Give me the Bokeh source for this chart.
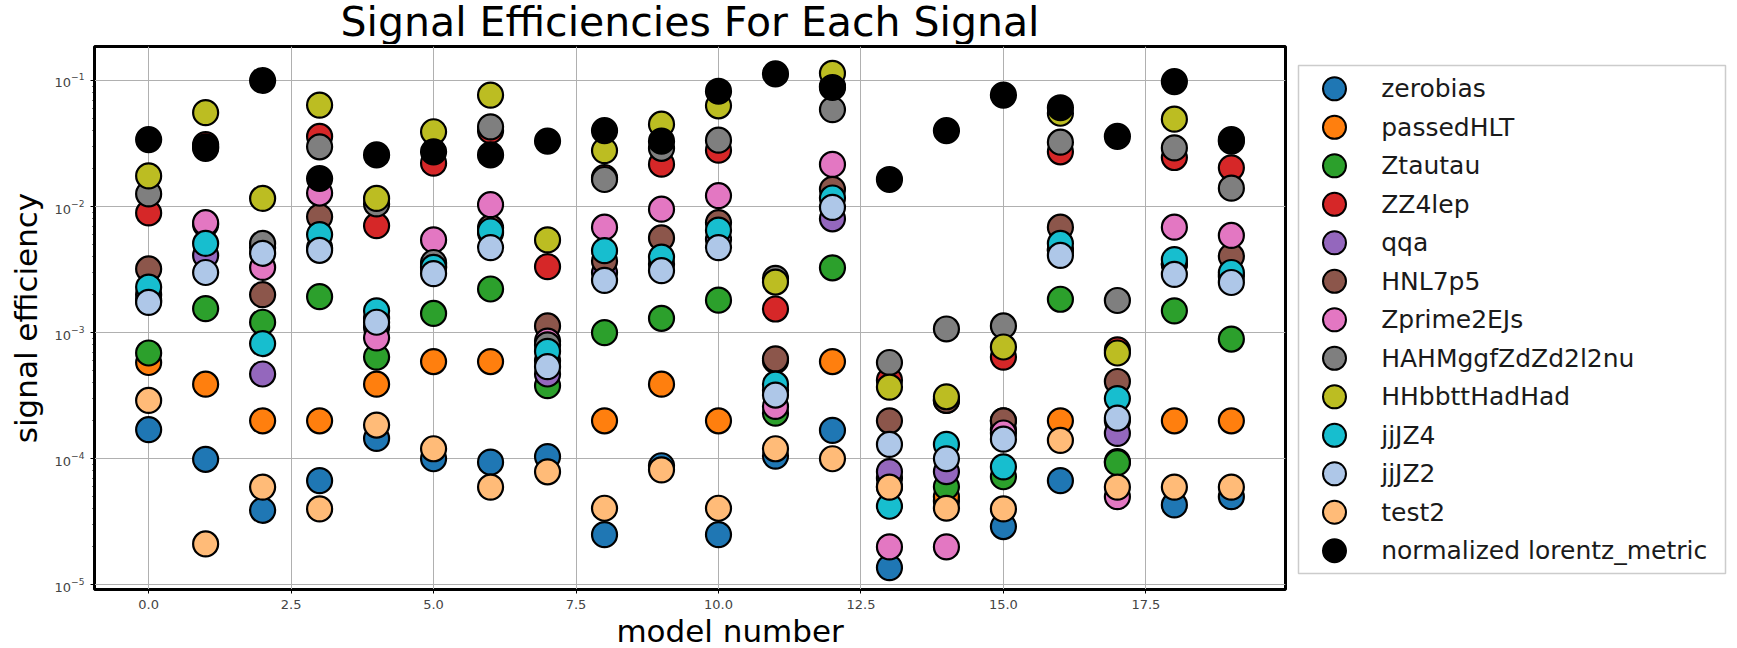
import numpy as np
from bokeh.plotting import figure
from bokeh.layouts import row, column
from bokeh.models import FixedTicker, PrintfTickFormatter, Range1d
from bokeh.core.properties import value
from bokeh.embed import file_html
from bokeh.resources import INLINE

models = list(range(20))

zerobias = [1.7e-4, 9.9e-5, 3.9e-5, 6.7e-5, 1.45e-4, 1.0e-4, 9.4e-5, 1.04e-4, 2.5e-5, 8.8e-5,
            2.5e-5, 1.05e-4, 1.68e-4, 1.37e-5, 4.6e-5, 2.9e-5, 6.7e-5, 9.5e-5, 4.3e-5, 5.0e-5]
passedHLT = [5.8e-4, 3.9e-4, 2.0e-4, 2.0e-4, 3.9e-4, 5.9e-4, 5.9e-4, 6.0e-4, 2.0e-4, 3.9e-4,
             2.0e-4, 6.0e-4, 5.9e-4, 6.0e-5, 5.0e-5, 2.0e-4, 2.0e-4, 2.0e-4, 2.0e-4, 2.0e-4]
Ztautau = [6.9e-4, 1.55e-3, 1.21e-3, 1.93e-3, 6.4e-4, 1.42e-3, 2.22e-3, 3.8e-4, 1.0e-3, 1.3e-3,
           1.81e-3, 2.3e-4, 3.27e-3, 7.0e-5, 6.0e-5, 7.2e-5, 1.84e-3, 9.3e-5, 1.49e-3, 8.9e-4]
ZZ4lep = [8.9e-3, 3.1e-2, 4.7e-3, 3.6e-2, 7.05e-3, 2.21e-2, 4.0e-2, 3.34e-3, 1.7e-2, 2.17e-2,
          2.8e-2, 1.54e-3, 9.0e-2, 4.2e-4, 2.9e-4, 6.4e-4, 2.72e-2, 7.3e-4, 2.45e-2, 2.03e-2]
qqa = [1.8e-3, 4.1e-3, 4.7e-4, 4.7e-3, 1.1e-3, 3.3e-3, 6.2e-3, 4.7e-4, 3.0e-3, 3.5e-3,
       5.5e-3, 3.5e-4, 8.0e-3, 7.9e-5, 7.9e-5, 1.7e-4, 4.5e-3, 1.59e-4, 3.5e-3, 2.8e-3]
HNL7p5 = [3.2e-3, 7.2e-3, 2.0e-3, 8.3e-3, 1.3e-3, 3.5e-3, 6.8e-3, 1.13e-3, 3.7e-3, 5.64e-3,
          7.45e-3, 6.2e-4, 1.37e-2, 2.0e-4, 2.9e-4, 2.0e-4, 6.86e-3, 4.1e-4, 3.5e-3, 4.03e-3]
Zprime2EJs = [2.0e-3, 7.45e-3, 3.29e-3, 1.28e-2, 9.1e-4, 5.44e-3, 1.035e-2, 8.57e-4, 6.86e-3, 9.53e-3,
              1.22e-2, 2.6e-4, 2.16e-2, 2.0e-5, 2.0e-5, 1.6e-4, 4.5e-3, 5.0e-5, 6.86e-3, 5.9e-3]
HAHMggfZdZd2l2nu = [1.26e-2, 2.9e-2, 5.1e-3, 2.98e-2, 1.05e-2, 3.6e-3, 4.29e-2, 8.0e-4, 1.64e-2, 2.9e-2,
                    3.36e-2, 2.7e-3, 5.88e-2, 5.8e-4, 1.07e-3, 1.13e-3, 3.24e-2, 1.8e-3, 2.92e-2, 1.4e-2]
HHbbttHadHad = [1.75e-2, 5.56e-2, 1.16e-2, 6.38e-2, 1.16e-2, 3.92e-2, 7.66e-2, 5.44e-3, 2.78e-2, 4.5e-2,
                6.3e-2, 2.52e-3, 1.14e-1, 3.7e-4, 3.1e-4, 7.7e-4, 5.5e-2, 6.9e-4, 4.93e-2, 3.3e-2]
jjJZ4 = [2.3e-3, 5.1e-3, 8.2e-4, 6.0e-3, 1.49e-3, 3.3e-3, 6.4e-3, 7.1e-4, 4.47e-3, 3.98e-3,
         6.5e-3, 3.9e-4, 1.17e-2, 4.2e-5, 1.3e-4, 8.63e-5, 5.1e-3, 3.0e-4, 3.8e-3, 3.0e-3]
jjJZ2 = [1.74e-3, 3.0e-3, 4.26e-3, 4.5e-3, 1.21e-3, 2.94e-3, 4.73e-3, 5.37e-4, 2.6e-3, 3.1e-3,
         4.73e-3, 3.2e-4, 9.86e-3, 1.3e-4, 1.0e-4, 1.43e-4, 4.1e-3, 2.1e-4, 2.9e-3, 2.5e-3]
test2 = [2.9e-4, 2.11e-5, 5.96e-5, 4.0e-5, 1.85e-4, 1.2e-4, 5.96e-5, 7.88e-5, 4.05e-5, 8.17e-5,
         4.05e-5, 1.2e-4, 1.0e-4, 5.96e-5, 4.05e-5, 4.0e-5, 1.4e-4, 5.96e-5, 5.96e-5, 5.96e-5]
lorentz_metric = [3.4e-2, 2.98e-2, 1.0e-1, 1.67e-2, 2.57e-2, 2.72e-2, 2.57e-2, 3.31e-2, 4.0e-2, 3.3e-2,
                  8.22e-2, 1.127e-1, 8.8e-2, 1.64e-2, 4.0e-2, 7.66e-2, 6.08e-2, 3.6e-2, 9.8e-2, 3.4e-2]

series_names = ["zerobias", "passedHLT", "Ztautau", "ZZ4lep", "qqa", "HNL7p5", "Zprime2EJs",
                "HAHMggfZdZd2l2nu", "HHbbttHadHad", "jjJZ4", "jjJZ2", "test2",
                "normalized lorentz_metric"]
series_values = [zerobias, passedHLT, Ztautau, ZZ4lep, qqa, HNL7p5, Zprime2EJs,
                 HAHMggfZdZd2l2nu, HHbbttHadHad, jjJZ4, jjJZ2, test2, lorentz_metric]
colors = ["#1f77b4", "#ff7f0e", "#2ca02c", "#d62728", "#9467bd", "#8c564b", "#e377c2",
          "#7f7f7f", "#bcbd22", "#17becf", "#aec7e8", "#ffbb78", "#000000"]
x_ticks = [0, 2.5, 5, 7.5, 10, 12.5, 15, 17.5]
title_text = "Signal Efficiencies For Each Signal"
x_label = "model number"
y_label = "signal efficiency"

FONT = "DejaVu Sans"
TOTAL_W, TOTAL_H = 1737, 648
TITLE_H = 44
MAIN_W = 1292
MAIN_H = 573
LEFT = 94
FRAME_W = 1285 - LEFT
FRAME_CX = LEFT + FRAME_W / 2


def text_strip(width, height):
    f = figure(width=width, height=height, x_range=Range1d(0, width), y_range=Range1d(height, 0),
               output_backend="svg", toolbar_location=None,
               x_axis_location=None, y_axis_location=None,
               min_border=0, min_border_left=0, min_border_right=0,
               min_border_top=0, min_border_bottom=0)
    f.grid.visible = False
    f.outline_line_color = None
    f.background_fill_color = "white"
    f.border_fill_color = "white"
    return f


# ---------------- title strip ----------------
tfig = text_strip(TOTAL_W, TITLE_H)
tfig.text([FRAME_CX], [21], text=[title_text], text_align="center",
          text_baseline="alphabetic", text_font=value(FONT), text_font_size="41px",
          text_color="black")

# ---------------- main scatter figure ----------------
p = figure(width=MAIN_W, height=MAIN_H, y_axis_type="log",
           x_range=(-0.95, 19.95), y_range=(10 ** -5.037, 10 ** -0.7304),
           output_backend="svg", toolbar_location=None,
           min_border_left=LEFT, min_border_right=MAIN_W - 1285,
           min_border_top=2, min_border_bottom=28)

p.outline_line_color = "black"
p.outline_line_width = 3
p.background_fill_color = "white"
p.border_fill_color = "white"

for ax in (p.xaxis[0], p.yaxis[0]):
    ax.axis_line_color = "black"
    ax.axis_line_width = 1
    ax.major_tick_in = 0
    ax.major_tick_out = 4
    ax.minor_tick_in = 0
    ax.minor_tick_out = 2
    ax.major_label_text_font = FONT
    ax.major_label_text_font_size = "13px"
    ax.major_label_text_color = "#444444"
    ax.axis_label_text_font = FONT
    ax.axis_label_text_font_size = "31px"
    ax.axis_label_text_font_style = "normal"
    ax.axis_label_text_color = "black"

p.yaxis.axis_label = y_label
p.xaxis.ticker = FixedTicker(ticks=x_ticks, minor_ticks=[])
p.xaxis.formatter = PrintfTickFormatter(format="%.1f")
p.xaxis.major_label_standoff = 6
p.yaxis.major_label_standoff = 6
p.yaxis.axis_label_standoff = 8

p.xgrid.grid_line_color = "#b0b0b0"
p.ygrid.grid_line_color = "#b0b0b0"
p.xgrid.grid_line_width = 1
p.ygrid.grid_line_width = 1

for name, vals, col in zip(series_names, series_values, colors):
    p.scatter(models, vals, size=25, fill_color=col, line_color="black", line_width=2.2)

# ---------------- x label strip ----------------
XL_H = TOTAL_H - TITLE_H - MAIN_H
xfig = text_strip(MAIN_W, XL_H)
xfig.text([FRAME_CX], [13], text=[x_label], text_align="center",
          text_baseline="alphabetic", text_font=value(FONT), text_font_size="31px",
          text_color="black")

# ---------------- legend panel ----------------
n = len(series_names)
rows_idx = list(range(n))
LG_W = TOTAL_W - MAIN_W
LG_H = TOTAL_H - TITLE_H
lg = figure(width=LG_W, height=LG_H, x_range=Range1d(0, 427),
            y_range=Range1d(12.59, -0.605),
            output_backend="svg", toolbar_location=None,
            x_axis_location=None, y_axis_location=None,
            min_border_left=1298 - MAIN_W, min_border_right=TOTAL_W - 1725,
            min_border_top=65 - TITLE_H, min_border_bottom=TOTAL_H - 573)
lg.grid.visible = False
lg.outline_line_color = "#cccccc"
lg.outline_line_width = 1.5
lg.background_fill_color = "white"
lg.border_fill_color = "white"
lg.scatter([36] * n, rows_idx, size=23, fill_color=colors, line_color="black", line_width=2)
lg.text([82.7] * n, rows_idx, text=series_names, text_baseline="middle", text_align="left",
        text_font=value(FONT), text_font_size="25px", text_color="#1a1a1a")

layout = column(tfig, row(column(p, xfig, spacing=0), lg, spacing=0), spacing=0)
open("out.html", "w").write(file_html(layout, INLINE))
